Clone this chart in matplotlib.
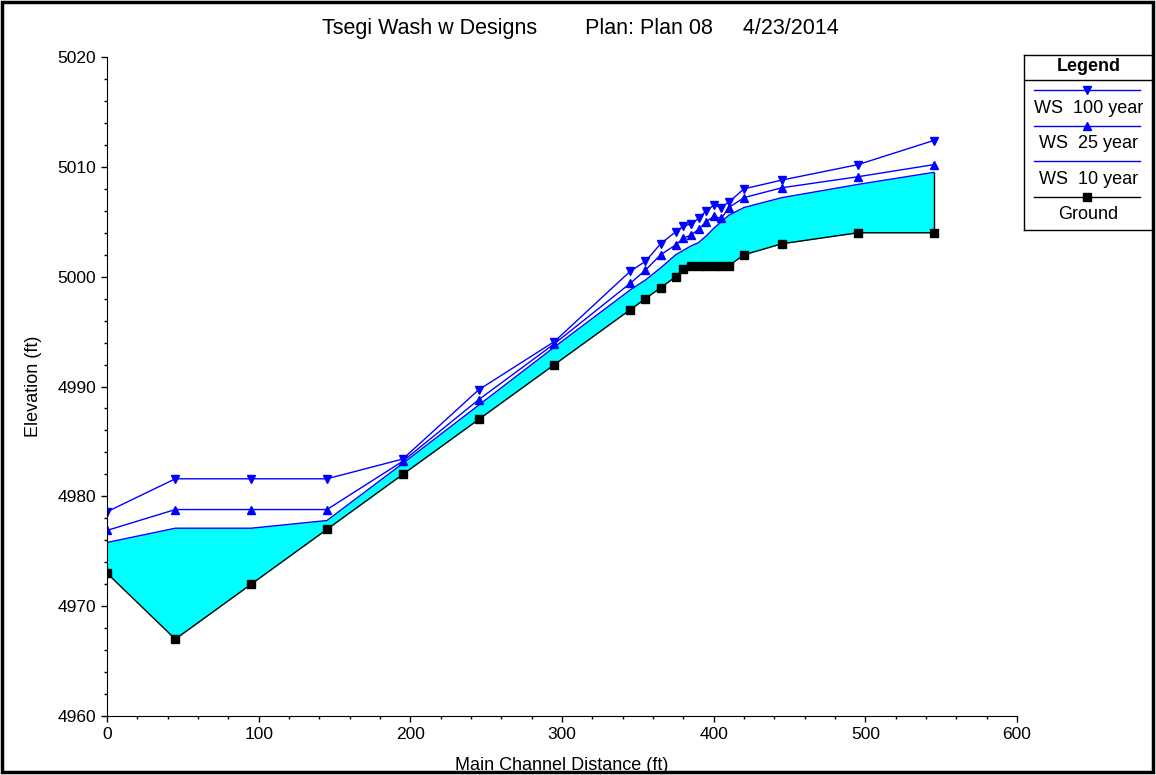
import matplotlib.pyplot as plt
from matplotlib.patches import Rectangle
from matplotlib.ticker import MultipleLocator

plt.rcParams['font.family'] = ['Liberation Sans', 'DejaVu Sans']

# main channel stations (ft)
dist = [0, 45, 95, 145, 195, 245, 295, 345, 355, 365, 375, 380, 385, 390,
        395, 400, 405, 410, 420, 445, 495, 545]
ground = [4973, 4967, 4972, 4977, 4982, 4987, 4992, 4997, 4998, 4999, 5000,
          5000.7, 5001, 5001, 5001, 5001, 5001, 5001, 5002, 5003, 5004, 5004]
ws100 = [4978.6, 4981.6, 4981.6, 4981.6, 4983.4, 4989.7, 4994.1, 5000.5,
         5001.4, 5003.0, 5004.1, 5004.6, 5004.8, 5005.3, 5006.0, 5006.5,
         5006.3, 5006.8, 5008.0, 5008.8, 5010.2, 5012.4]
ws25 = [4976.9, 4978.8, 4978.8, 4978.8, 4983.2, 4988.8, 4993.9, 4999.4,
        5000.6, 5002.0, 5002.9, 5003.5, 5003.8, 5004.3, 5005.0, 5005.5,
        5005.3, 5006.3, 5007.2, 5008.1, 5009.1, 5010.2]
ws10 = [4975.8, 4977.1, 4977.1, 4977.8, 4983.0, 4988.3, 4993.6, 4998.8,
        4999.7, 5000.8, 5002.0, 5002.4, 5002.8, 5003.1, 5003.7, 5004.4,
        5005.0, 5005.6, 5006.3, 5007.2, 5008.4, 5009.5]

legend_names = ['WS  100 year', 'WS  25 year', 'WS  10 year', 'Ground']

fig = plt.figure(figsize=(11.56, 7.75), dpi=100)
ax = fig.add_axes([0.0926, 0.0761, 0.7872, 0.8503])

ax.fill_between(dist, ground, ws10, color=(0, 1, 1), linewidth=0)
ax.vlines(dist[-1], ground[-1], ws10[-1], color='black', linewidth=1)
ax.plot(dist, ws10, color=(0, 0, 1), linewidth=1)
ax.plot(dist, ws25, color=(0, 0, 1), linewidth=1, marker='^', markersize=6)
ax.plot(dist, ws100, color=(0, 0, 1), linewidth=1, marker='v', markersize=6)
ax.plot(dist, ground, color='black', linewidth=1, marker='s', markersize=6)

ax.set_xlim(0, 600)
ax.set_ylim(4960, 5020)
ax.xaxis.set_major_locator(MultipleLocator(100))
ax.xaxis.set_minor_locator(MultipleLocator(20))
ax.yaxis.set_major_locator(MultipleLocator(10))
ax.yaxis.set_minor_locator(MultipleLocator(2))
ax.tick_params(which='major', direction='out', length=4, width=1, labelsize=12.5)
ax.tick_params(which='minor', direction='out', length=2.5, width=1)
ax.tick_params(axis='x', pad=4)
ax.tick_params(axis='y', pad=4)
ax.spines['top'].set_visible(False)
ax.spines['right'].set_visible(False)
ax.set_xlabel('Main Channel Distance (ft)', fontsize=13, labelpad=11)
ax.set_ylabel('Elevation (ft)', fontsize=13, labelpad=11)

fig.text(0.502, 0.963, 'Tsegi Wash w Designs        Plan: Plan 08     4/23/2014',
         ha='center', va='center', fontsize=15.5)

# hand-made legend box
lg = fig.add_axes([0.8858, 0.703, 0.1116, 0.226])
lg.set_xlim(0, 1)
lg.set_ylim(175, 0)
lg.set_xticks([])
lg.set_yticks([])
for s in lg.spines.values():
    s.set_linewidth(1)
lg.text(0.5, 11, 'Legend', ha='center', va='center', fontsize=13, fontweight='bold')
lg.axhline(25, color='black', linewidth=1)
styles = [('v', (0, 0, 1)), ('^', (0, 0, 1)), (None, (0, 0, 1)), ('s', 'black')]
for i, (name, (mk, col)) in enumerate(zip(legend_names, styles)):
    yl = 35 + i * 35.5
    lg.plot([0.08, 0.9], [yl, yl], color=col, linewidth=1)
    if mk:
        lg.plot([0.49], [yl], marker=mk, color=col, markersize=6)
    lg.text(0.5, yl + 18, name, ha='center', va='center', fontsize=13)

fig.add_artist(Rectangle((0.002, 0.004), 0.995, 0.993, transform=fig.transFigure,
                         fill=False, edgecolor='black', linewidth=2.5))

fig.savefig('out.png', dpi=100)
